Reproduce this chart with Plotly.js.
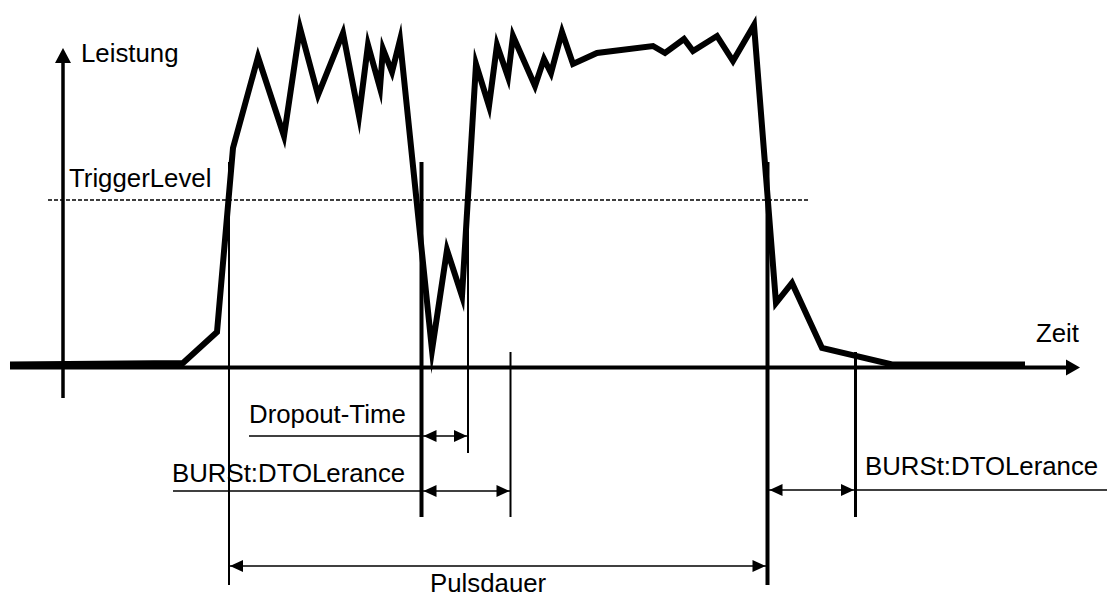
<!DOCTYPE html>
<html><head><meta charset="utf-8">
<script src="https://cdn.plot.ly/plotly-3.0.1.min.js"></script>
<style>
html,body{margin:0;padding:0;background:#fff;}
#chart{width:1107px;height:596px;}
.scatterlayer .js-line{stroke-linejoin:miter;stroke-miterlimit:12;}
</style></head><body><div id="chart"></div>
<script>
// Power signal (time, power); origin = crossing of the axes
const signalTime  = [-53, 107, 113, 120, 154, 170, 195, 221, 237, 255, 280, 296, 305, 317, 320, 329, 337,
                     369, 384, 399, 413, 426, 434, 445, 450, 472, 481, 488, 499, 510, 534, 590, 602, 621,
                     630, 654, 670, 691, 713, 729, 759, 829, 962];
const signalPower = [3, 3, 4.5, 4.5, 35.5, 219.5, 310.5, 231.5, 339.5, 272.5, 334.5, 251.5, 322.5, 279.5, 318.5, 295.5, 327.5,
                     17.5, 117.5, 71.5, 303.5, 261.5, 322.5, 290.5, 331.5, 281.5, 308.5, 294.5, 335.5, 303.5, 314.5, 321.5, 314.5, 328.5,
                     316.5, 331.5, 306.5, 342.5, 64.5, 84.5, 19.5, 3, 3];
// Trigger level and its drawn extent
const triggerLevel = [167.5];
const triggerSpan  = [-15, 747];
// Event times: pulse start, dropout start, dropout end, dropout+tolerance, pulse end, end+tolerance
const eventTimes = [166, 358.5, 405, 447.5, 704.5, 792.5];
// Text labels
const labelTexts = ["Leistung", "TriggerLevel", "Dropout-Time", "BURSt:DTOLerance", "BURSt:DTOLerance", "Pulsdauer", "Zeit"];

const X0 = 63, Y0 = 367.5;           // axis origin in the picture
const fx = x => x - X0, fy = y => Y0 - y;
const [tStart, tDrop, tDropEnd, tTol, tEnd, tEndTol] = eventTimes;

const shapes = [];
function seg(x0, y0, x1, y1, w, dash) {
  shapes.push({type:'line', xref:'x', yref:'y', x0, y0, x1, y1,
    line:{color:'#000', width:w, dash: dash || 'solid'}});
}
function head(tx, ty, dir, len, half) {
  let p;
  if (dir === 'l') p = `M${tx},${ty} L${tx+len},${ty+half} L${tx+len},${ty-half} Z`;
  else if (dir === 'r') p = `M${tx},${ty} L${tx-len},${ty+half} L${tx-len},${ty-half} Z`;
  else p = `M${tx},${ty} L${tx-half},${ty-len} L${tx+half},${ty-len} Z`;
  shapes.push({type:'path', xref:'x', yref:'y', path:p, fillcolor:'#000', line:{width:0}});
}

// Axes
seg(fx(10), 0, fx(1067), 0, 4);
head(fx(1080), 0, 'r', 14, 8);
seg(0, fy(398), 0, fy(62), 3.5);
head(0, fy(48), 'u', 15, 8);

// Vertical markers
const topY = fy(162), lowY = fy(585), midY = fy(517), shortTop = fy(352);
const vW = [2, 4, 2, 2, 4, 3];
seg(tStart, topY, tStart, lowY, vW[0]);
seg(tDrop, topY, tDrop, midY, vW[1]);
seg(tDropEnd, topY, tDropEnd, fy(453), vW[2]);
seg(tTol, shortTop, tTol, midY, vW[3]);
seg(tEnd, topY, tEnd, lowY, vW[4]);
seg(tEndTol, shortTop, tEndTol, midY, vW[5]);

// Dimension arrows
const L = 13, H = 6, aw = 1.5;
const rowDrop = fy(436), rowTol = fy(491), rowTolR = fy(490), rowPulse = fy(566);
seg(fx(249), rowDrop, tDropEnd, rowDrop, aw);
head(tDrop + vW[1]/2, rowDrop, 'l', L, H);
head(tDropEnd - vW[2]/2, rowDrop, 'r', L, H);

seg(fx(173), rowTol, tTol, rowTol, aw);
head(tDrop + vW[1]/2, rowTol, 'l', L, H);
head(tTol - vW[3]/2, rowTol, 'r', L, H);

seg(tEnd, rowTolR, fx(1107), rowTolR, aw);
head(tEnd + vW[4]/2, rowTolR, 'l', L, H);
head(tEndTol - vW[5]/2, rowTolR, 'r', L, H);

seg(tStart, rowPulse, tEnd, rowPulse, aw);
head(tStart + vW[0]/2, rowPulse, 'l', L, H);
head(tEnd - vW[4]/2, rowPulse, 'r', L, H);

// Labels (left x, baseline y in picture pixels)
const labelPos = [[80,62],[68,187],[248,423],[171,482],[864,475],[429,592],[1035,342]];
const annotations = labelTexts.map((t, i) => ({
  text: t, x: fx(labelPos[i][0] - 1), y: fy(labelPos[i][1] - 9), xref:'x', yref:'y',
  xanchor:'left', yanchor:'middle', showarrow:false,
  font:{family:'Liberation Sans, Arial, sans-serif', size:25.8, color:'#000'}
}));

const traces = [
  {x: triggerSpan, y: [triggerLevel[0], triggerLevel[0]], mode:'lines', hoverinfo:'skip',
   line:{color:'#000', width:1.3, dash:'4px,2px'}},
  {x: signalTime, y: signalPower, mode:'lines', hoverinfo:'skip',
   line:{color:'#000', width:6, shape:'linear'}}
];

Plotly.newPlot('chart', traces, {
  width:1107, height:596, autosize:false,
  margin:{l:0, r:0, t:0, b:0, pad:0},
  paper_bgcolor:'#fff', plot_bgcolor:'#fff', showlegend:false,
  xaxis:{range:[fx(0), fx(1107)], visible:false, fixedrange:true},
  yaxis:{range:[fy(596), fy(0)], visible:false, fixedrange:true},
  shapes, annotations
}, {displayModeBar:false, staticPlot:true});
</script></body></html>
